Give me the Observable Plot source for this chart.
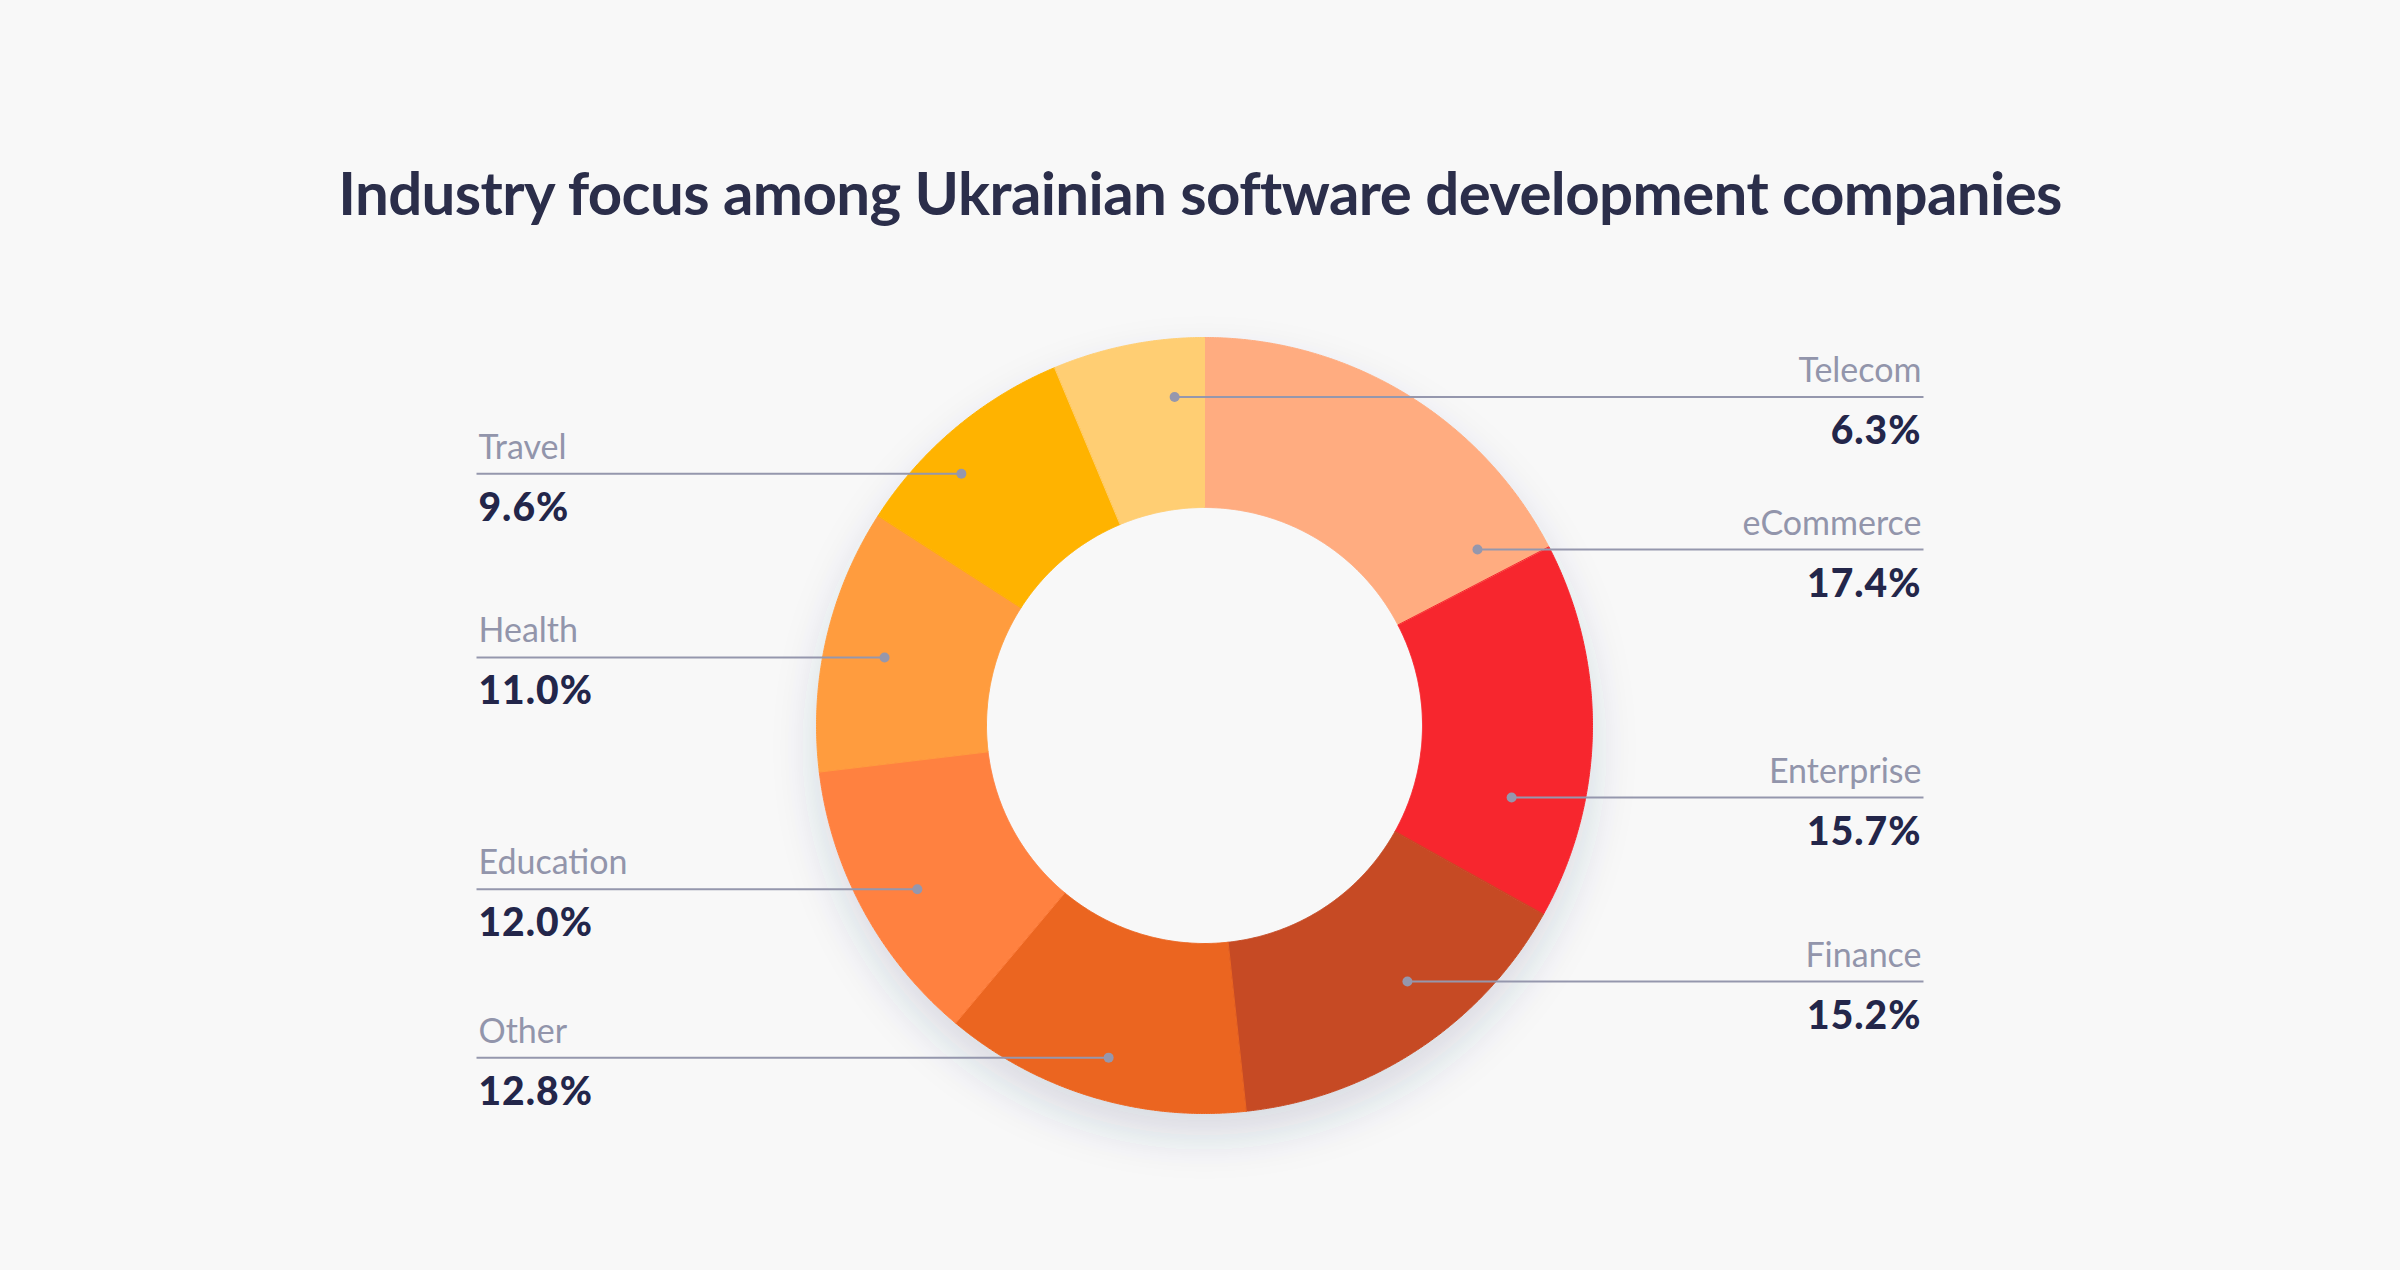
<!DOCTYPE html>
<html>
<head>
<meta charset="utf-8">
<script src="https://cdn.jsdelivr.net/npm/d3@7"></script>
<script src="https://cdn.jsdelivr.net/npm/@observablehq/plot@0.6"></script>
<style>
  html, body { margin: 0; padding: 0; background: #f8f8f8; overflow: hidden; width: 2400px; height: 1270px; }
  #title { height: 260px; box-sizing: border-box; padding-top: 162px; text-align: center;
           font-family: Lato, "Noto Sans", sans-serif; font-weight: 700; font-size: 60px; line-height: 1;
           letter-spacing: -0.6px; color: #2b2e4a; white-space: nowrap; }
  #chart svg { display: block; }
</style>
</head>
<body>
<div id="title">Industry focus among Ukrainian software development companies</div>
<div id="chart"></div>
<script>
// ---- data (clockwise from 12 o'clock) ----
const categories = ["eCommerce", "Enterprise", "Finance", "Other", "Education", "Health", "Travel", "Telecom"];
const shares = [17.4, 15.7, 15.2, 12.8, 12.0, 11.0, 9.6, 6.3];

// ---- styles / layout (not data) ----
const colors = ["#ffac80", "#f7262e", "#c64a24", "#eb6520", "#ff8140", "#ff9c3e", "#ffb300", "#ffce73"];
const labelSide = ["right", "right", "right", "left", "left", "left", "left", "right"];
const dotAngleDeg = [57.2, 103.2, 141.6, 196.1, 240.3, 282, 316, 354.8];
const dotRadius = [0.837, 0.813, 0.842, 0.891, 0.852, 0.843, 0.902, 0.85];

const W = 2400, H = 1010;
const R = 388;               // outer radius, px
const innerRatio = 218 / 388;
const cx = 1204, cy = 465;   // centre inside the svg, px
const rightEdge = (1921 - cx) / R, rightLineEnd = (1923 - cx) / R;
const leftEdge = (478 - cx) / R, leftLineEnd = (476 - cx) / R;
const startAngle = 0;
const bg = "#f8f8f8";

const rows = categories.map((name, i) => ({name, value: shares[i]}));
const arcs = d3.pie().sort(null).value(d => d.value)
  .startAngle(startAngle).endAngle(startAngle + 2 * Math.PI)(rows);

// ring slice outlines in unit space
const step = Math.PI / 720;
const slicePts = [];
for (const a of arcs) {
  const n = Math.max(2, Math.ceil((a.endAngle - a.startAngle) / step));
  for (let k = 0; k <= n; k++) {
    const t = a.startAngle + (a.endAngle - a.startAngle) * k / n;
    slicePts.push({name: a.data.name, x: Math.sin(t), y: Math.cos(t)});
  }
  for (let k = n; k >= 0; k--) {
    const t = a.startAngle + (a.endAngle - a.startAngle) * k / n;
    slicePts.push({name: a.data.name, x: innerRatio * Math.sin(t), y: innerRatio * Math.cos(t)});
  }
}
// full disk used to cast the shadow
const diskPts = d3.range(0, 721).map(k => {
  const t = 2 * Math.PI * k / 720;
  return {x: Math.sin(t), y: Math.cos(t)};
});

const labels = rows.map((d, i) => {
  const t = dotAngleDeg[i] * Math.PI / 180;
  const r = dotRadius[i];
  const side = labelSide[i];
  return {
    name: d.name, value: d.value, side,
    dx: r * Math.sin(t), y: r * Math.cos(t),
    tx: side === "right" ? rightEdge : leftEdge,
    lx: side === "right" ? rightLineEnd : leftLineEnd
  };
});
const fmt = d => d3.format(".1f")(d.value) + "%";
const nameColor = "#9295ab", valueColor = "#23264a", lineColor = "#9597ad";
const font = "Lato, 'Noto Sans', sans-serif";

const textMarks = [];
for (const side of ["left", "right"]) {
  const data = labels.filter(d => d.side === side);
  const anchor = side === "right" ? "end" : "start";
  textMarks.push(
    Plot.text(data, {x: "tx", y: "y", text: "name", textAnchor: anchor, lineAnchor: "bottom",
      dy: -15, fill: nameColor, fontSize: 34, fontFamily: font, fontWeight: 400}),
    Plot.text(data, {x: "tx", y: "y", text: fmt, textAnchor: anchor, lineAnchor: "bottom",
      dy: 47, fill: valueColor, fontSize: 39, fontFamily: font, fontWeight: 900})
  );
}

const chart = Plot.plot({
  width: W, height: H, margin: 0,
  x: {domain: [-cx / R, (W - cx) / R], range: [0, W], axis: null},
  y: {domain: [-(H - cy) / R, cy / R], range: [H, 0], axis: null},
  color: {domain: categories, range: colors},
  style: {background: "transparent", overflow: "visible"},
  marks: [
    Plot.line(diskPts, {x: "x", y: "y", fill: bg, stroke: "none", curve: "linear-closed"}),
    Plot.line(slicePts, {x: "x", y: "y", z: "name", fill: "name", stroke: "name", strokeWidth: 1, curve: "linear-closed"}),
    Plot.link(labels, {x1: "dx", y1: "y", x2: "lx", y2: "y", stroke: lineColor, strokeWidth: 2}),
    Plot.dot(labels, {x: "dx", y: "y", r: 5, fill: lineColor, stroke: "none"}),
    ...textMarks
  ]
});
document.getElementById("chart").appendChild(chart);

// soft drop shadow under the ring (styling only)
const ns = "http://www.w3.org/2000/svg";
const defs = document.createElementNS(ns, "defs");
defs.innerHTML = '<filter id="ringShadow" x="-30%" y="-30%" width="160%" height="170%">' +
  '<feDropShadow dx="0" dy="22" stdDeviation="22" flood-color="#32376a" flood-opacity="0.16"/></filter>';
chart.insertBefore(defs, chart.firstChild);
const diskG = Array.from(chart.querySelectorAll("g")).find(g => (g.getAttribute("fill") || "").toLowerCase() === bg);
if (diskG) diskG.setAttribute("filter", "url(#ringShadow)");
// slightly wider tracking on the bold percentages
for (const g of chart.querySelectorAll("g")) {
  if ((g.getAttribute("fill") || "").toLowerCase() === valueColor) g.style.letterSpacing = "1px";
}
</script>
</body>
</html>
